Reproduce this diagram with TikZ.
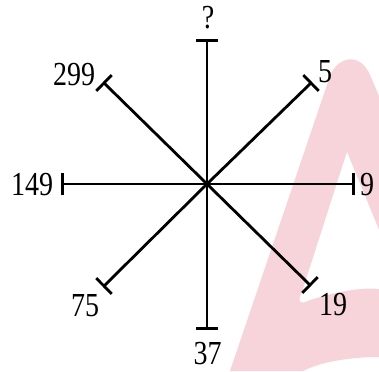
\documentclass[tikz,border=0pt]{standalone}
\usepackage{fontspec}
\setmainfont{Liberation Serif}
\usetikzlibrary{arrows.meta}
\definecolor{wmpink}{RGB}{246,212,217}
\newcommand\stretchlbl[1]{\scalebox{1}[1.2]{#1}}
\tikzset{
  spoke/.style={line width=2.8pt, -{Bar[width=22pt]}},
  lbl/.style={inner sep=0pt, anchor=center, font=\fontsize{28}{34}\selectfont},
}
\begin{document}
\begin{tikzpicture}[x=1pt,y=-1pt]
\useasboundingbox (0,0) rectangle (379,371);
\fill[white] (0,0) rectangle (379,371);
% watermark
\fill[wmpink] (230,371) -- (330,76) .. controls (338,56) and (360,52) .. (370,75)
  -- (379,96) -- (379,357) .. controls (350,357) and (320,362) .. (303,371) -- cycle;
\fill[white] (347,152) -- (302,292) .. controls (296,304) and (302,304) .. (310,300)
  .. controls (335,292) and (360,287) .. (379,289) -- (379,230) -- cycle;
% spokes
\coordinate (c) at (207,184);
\coordinate (t) at (207,39);
\coordinate (b) at (207,330);
\coordinate (l) at (61,184);
\coordinate (r) at (355,184);
\coordinate (ul) at (103,82);
\coordinate (ur) at (312,82);
\coordinate (dl) at (103,287);
\coordinate (dr) at (311,286);
\foreach \e in {t,b,l,r,ul,ur,dl,dr} \draw[spoke] (c) -- (\e);
\fill (c) circle (2pt);
% labels
\node[lbl] (qt) at (208,18) {\stretchlbl{?}};
\node[lbl] (n299) at (74,75) {\stretchlbl{299}};
\node[lbl] (n5) at (325,72) {\stretchlbl{5}};
\node[lbl] (n149) at (32,184.5) {\stretchlbl{149}};
\node[lbl] (n9) at (367,185) {\stretchlbl{9}};
\node[lbl] (n75) at (85,306) {\stretchlbl{75}};
\node[lbl] (n19) at (333,305) {\stretchlbl{19}};
\node[lbl] (n37) at (207.5,354) {\stretchlbl{37}};
\end{tikzpicture}
\end{document}
